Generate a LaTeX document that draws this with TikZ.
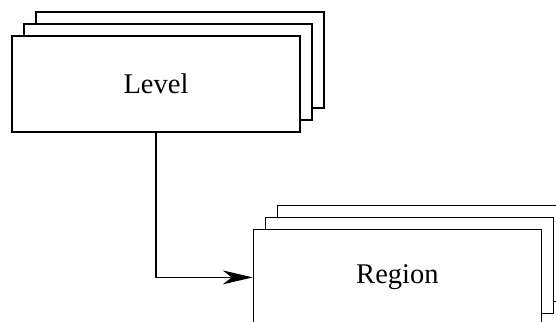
\documentclass[tikz,border=0pt]{standalone}
\usepackage{fontspec}
\setmainfont{Liberation Serif}
\usetikzlibrary{positioning,shadows,arrows.meta}

\begin{document}
\begin{tikzpicture}[x=0.5pt, y=0.5pt, line width=0.7pt,
	stack/.style = { draw, fill=white, minimum width=144pt,
			minimum height=48pt, font=\fontsize{14.25}{17}\selectfont,
			double copy shadow={shadow xshift=6pt, shadow yshift=6pt} },
	tip/.style = { -{Stealth[length=15pt, width=7pt, inset=4.5pt]} }]

  \useasboundingbox (0,0) rectangle (556,321);
  \clip (0,0) rectangle (556,321);

  \node[name=level, stack] at (156,237) {Level};
  \node[name=region, stack, below right=48pt and -24pt of level] {Region};

  \draw [tip] (level) |- (region);
\end{tikzpicture}
\end{document}
